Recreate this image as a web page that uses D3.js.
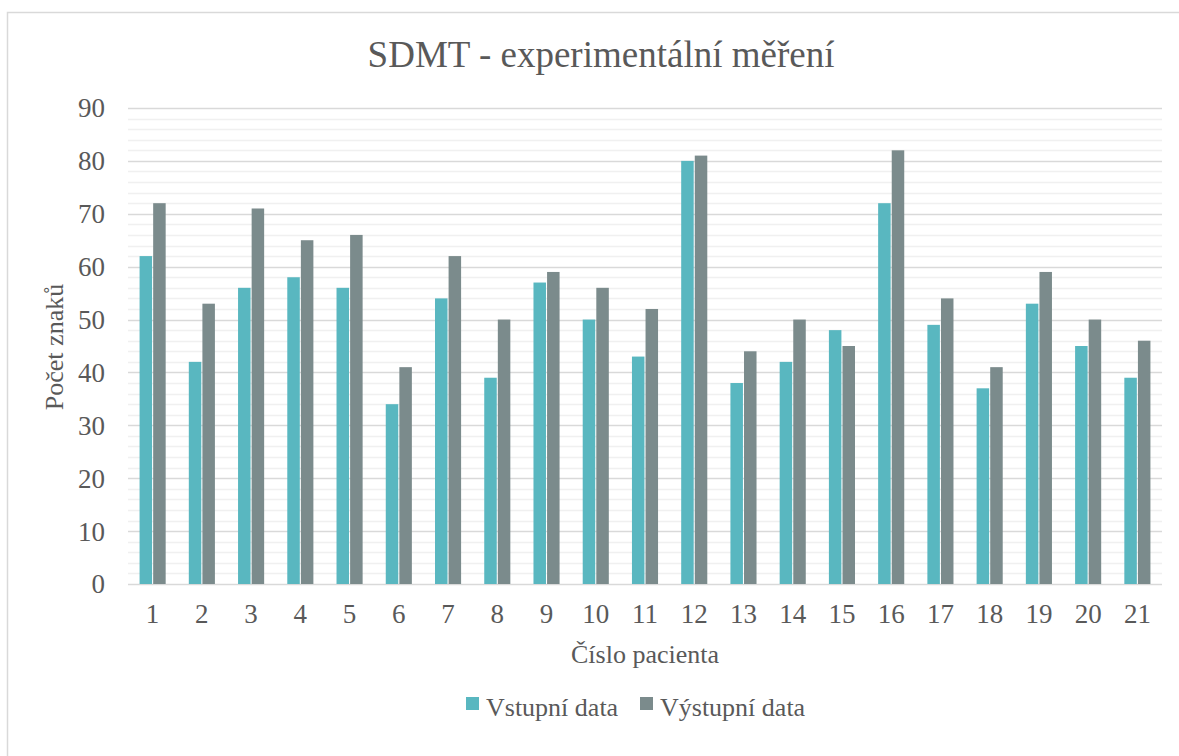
<!DOCTYPE html>
<html><head><meta charset="utf-8">
<script src="https://cdn.jsdelivr.net/npm/d3@7"></script>
<style>body{margin:0;background:#fff}svg{display:block}text{font-family:"Liberation Serif","Times New Roman",serif;fill:#595959}</style>
</head><body><svg id="c" width="1179" height="756"></svg>
<script>
const categories = ["1","2","3","4","5","6","7","8","9","10","11","12","13","14","15","16","17","18","19","20","21"];
const vstupni = [62,42,56,58,56,34,54,39,57,50,43,80,38,42,48,72,49,37,53,45,39];
const vystupni = [72,53,71,65,66,41,62,50,59,56,52,81,44,50,45,82,54,41,59,50,46];
const seriesNames = ["Vstupní data","Výstupní data"];
const colors = ["#59B7C0","#7B8B8C"];
const yTicks = [0,10,20,30,40,50,60,70,80,90];

const svg = d3.select("#c");
svg.append("rect").attr("x",7.5).attr("y",12.5).attr("width",1180).attr("height",760)
  .attr("fill","#fff").attr("stroke","#d9d9d9").attr("stroke-width",1.5);

const L=128,R=1162,T=108,B=584;
const x = d3.scaleBand().domain(categories).range([L,R]).paddingInner(0.47).paddingOuter(0.235);
const y = d3.scaleLinear().domain([0,90]).range([B,T]);
const xs = d3.scaleBand().domain([0,1]).range([0,x.bandwidth()]).paddingInner(0.08);

// minor grid
const minor = d3.range(0,91,2).filter(v=>v%10!==0);
svg.append("g").selectAll("line").data(minor).join("line")
  .attr("x1",L).attr("x2",R).attr("y1",d=>Math.round(y(d))+0.5).attr("y2",d=>Math.round(y(d))+0.5)
  .attr("stroke","#f0f0f0").attr("stroke-width",1.5);
svg.append("g").selectAll("line").data(yTicks).join("line")
  .attr("x1",L).attr("x2",R).attr("y1",d=>Math.round(y(d))+0.5).attr("y2",d=>Math.round(y(d))+0.5)
  .attr("stroke","#d9d9d9").attr("stroke-width",1.5);

const data = categories.map((c,i)=>({c, v:[vstupni[i],vystupni[i]]}));
const g = svg.append("g");
data.forEach(d=>{
  d.v.forEach((v,k)=>{
    g.append("rect").attr("x",x(d.c)+xs(k)).attr("width",xs.bandwidth())
      .attr("y",y(v)).attr("height",B-y(v)).attr("fill",colors[k]);
  });
});

// y axis labels
const yAxis = d3.axisLeft(y).tickValues(yTicks).tickSize(0).tickPadding(0);
const ya = svg.append("g").attr("transform",`translate(105,0)`).call(yAxis);
ya.select(".domain").remove();
ya.selectAll("text").attr("font-size",27).attr("fill","#595959").attr("font-family","Liberation Serif").attr("dy","0.33em");

const xAxis = d3.axisBottom(x).tickSize(0).tickPadding(0);
const xa = svg.append("g").attr("transform",`translate(0,${B})`).call(xAxis);
xa.select(".domain").remove();
xa.selectAll("text").attr("font-size",27).attr("fill","#595959").attr("font-family","Liberation Serif").attr("y",39).attr("dy",0);

svg.append("text").attr("x",601).attr("y",67).attr("text-anchor","middle").attr("font-size",37).text("SDMT - experimentální měření");
svg.append("text").attr("x",645).attr("y",663).attr("text-anchor","middle").attr("font-size",26).text("Číslo pacienta");
svg.append("text").attr("transform","translate(63,347) rotate(-90)").attr("text-anchor","middle").attr("font-size",26).text("Počet znaků");

// legend
const legX=[466,640];
seriesNames.forEach((n,k)=>{
  svg.append("rect").attr("x",legX[k]).attr("y",697).attr("width",13).attr("height",13).attr("fill",colors[k]);
  svg.append("text").attr("x",legX[k]+20).attr("y",716).attr("font-size",26).text(n);
});
</script></body></html>
